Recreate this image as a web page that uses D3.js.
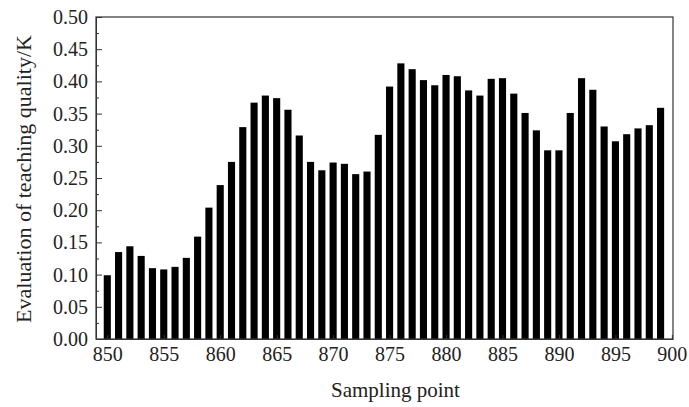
<!DOCTYPE html>
<html>
<head>
<meta charset="utf-8">
<script src="https://cdn.jsdelivr.net/npm/d3@7"></script>
<style>
  body { margin: 0; background: #fff; }
</style>
</head>
<body>
<div id="chart"></div>
<script>
// sampling points 850..899
var samples = d3.range(850, 900);
var quality = [0.099, 0.135, 0.144, 0.129, 0.110, 0.108, 0.112, 0.126, 0.159, 0.204,
               0.239, 0.275, 0.329, 0.367, 0.378, 0.374, 0.356, 0.316, 0.275, 0.262,
               0.274, 0.272, 0.256, 0.260, 0.317, 0.392, 0.428, 0.419, 0.402, 0.394,
               0.410, 0.408, 0.386, 0.378, 0.404, 0.405, 0.381, 0.351, 0.324, 0.293,
               0.293, 0.351, 0.405, 0.387, 0.330, 0.307, 0.318, 0.327, 0.332, 0.359];
var xTicks = [850, 855, 860, 865, 870, 875, 880, 885, 890, 895, 900];
var yTicks = [0, 0.05, 0.1, 0.15, 0.2, 0.25, 0.3, 0.35, 0.4, 0.45, 0.5];

var width = 689, height = 407;
var margin = {top: 17, right: 16, bottom: 68, left: 96};
var w = width - margin.left - margin.right,
    h = height - margin.top - margin.bottom;
var serif = '"Liberation Serif"';

var svg = d3.select("#chart").append("svg")
    .attr("width", width)
    .attr("height", height);

var g = svg.append("g")
    .attr("transform", "translate(" + margin.left + "," + margin.top + ")");

var x = d3.scaleLinear().domain([849, 900.1]).range([0, w]);
var y = d3.scaleLinear().domain([0, 0.5]).range([h, 0]);

var barW = x(850.63) - x(850);

g.selectAll("rect.bar")
    .data(samples)
    .enter().append("rect")
    .attr("class", "bar")
    .attr("x", function(d) { return x(d) - barW / 2; })
    .attr("y", function(d, i) { return y(quality[i]); })
    .attr("width", barW)
    .attr("height", function(d, i) { return h - y(quality[i]); })
    .attr("fill", "#000");

// y axis, inward ticks
g.append("g")
    .call(d3.axisLeft(y).tickValues(yTicks).tickFormat(d3.format(".2f"))
      .tickSizeInner(-6).tickSizeOuter(0).tickPadding(8));
// minor ticks
g.append("g")
    .call(d3.axisLeft(y).tickValues(d3.range(0.025, 0.5, 0.05)).tickFormat("")
      .tickSizeInner(-3).tickSizeOuter(0))
    .select(".domain").remove();

g.append("g")
    .attr("transform", "translate(0," + h + ")")
    .call(d3.axisBottom(x).tickValues(xTicks).tickFormat(d3.format("d"))
      .tickSizeInner(-4).tickSizeOuter(0).tickPadding(8));

g.selectAll(".tick text")
    .style("font-family", serif)
    .style("font-size", "20px")
    .style("fill", "#222");
g.selectAll(".tick line, .domain").attr("stroke", "#333");

// frame
g.append("rect")
    .attr("width", w).attr("height", h)
    .attr("fill", "none").attr("stroke", "#333").attr("stroke-width", 1.2);

svg.append("text")
    .attr("x", margin.left + w / 2 + 11)
    .attr("y", 397)
    .attr("text-anchor", "middle")
    .style("font-family", serif)
    .style("font-size", "21px")
    .style("fill", "#222")
    .text("Sampling point");

svg.append("text")
    .attr("transform", "translate(31," + (margin.top + h / 2 + 1) + ") rotate(-90)")
    .attr("text-anchor", "middle")
    .style("font-family", serif)
    .style("font-size", "22px")
    .style("fill", "#222")
    .text("Evaluation of teaching quality/K");
</script>
</body>
</html>
